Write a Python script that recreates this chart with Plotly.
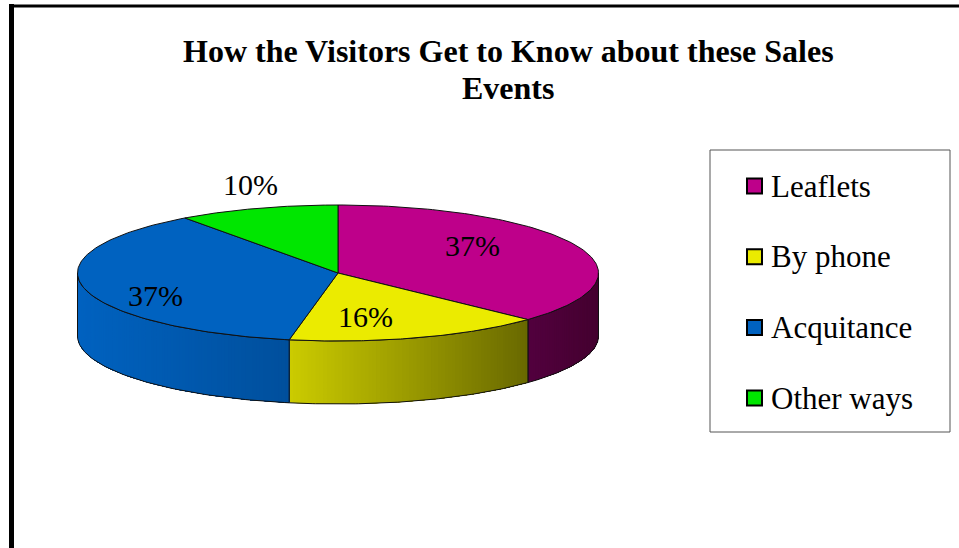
import numpy as np
import plotly.graph_objects as go

# ---- data ----
categories = ["Leaflets", "By phone", "Acquitance", "Other ways"]
shares = [37, 16, 37, 10]
value_labels = [f"{v}%" for v in shares]

# ---- styles ----
top_colors = ["#BE008A", "#EBEB00", "#0062C0", "#00E600"]
side_left = ["#52003E", "#CBCB00", "#0062C0", "#00B000"]
side_right = ["#44002F", "#686800", "#004F9C", "#008800"]
FONT = "Liberation Serif"

# pie geometry (pixel space)
CX, CY, RX, RY, DEPTH = 338, 273, 260.5, 68, 63
START_DEG = 90.0  # first slice starts at 12 o'clock, clockwise


def arc(t_from, t_to, n, drop=0.0):
    t = np.radians(np.linspace(t_from, t_to, n))
    return CX + RX * np.cos(t), CY - RY * np.sin(t) + drop


def mix(c1, c2, f):
    a = [int(c1[i:i + 2], 16) for i in (1, 3, 5)]
    b = [int(c2[i:i + 2], 16) for i in (1, 3, 5)]
    return "rgb({},{},{})".format(*[round(a[k] + (b[k] - a[k]) * f) for k in range(3)])


total = float(sum(shares))
bounds = START_DEG - 360.0 * np.concatenate([[0], np.cumsum(shares)]) / total

fig = go.Figure()

# side walls (front half only: angles between -180 and 0)
for i in range(len(shares)):
    t0, t1 = bounds[i], bounds[i + 1]
    hi, lo = min(t0, 0.0), max(t1, -180.0)
    if hi <= lo:
        continue
    steps = max(int((hi - lo) * 1.2), 2)
    edges = np.linspace(lo, hi, steps + 1)
    xl = CX + RX * np.cos(np.radians(lo))
    xr = CX + RX * np.cos(np.radians(hi))
    for k in range(steps):
        # each band runs from its own left edge to the right end of the wall,
        # so later bands cover earlier ones without leaving seams
        n = max(int((hi - edges[k]) * 2), 3)
        ax, ay = arc(edges[k], hi, n)
        bx, by = arc(hi, edges[k], n, DEPTH)
        f = (ax[0] - min(xl, xr)) / max(abs(xr - xl), 1e-9)
        col = mix(side_left[i], side_right[i], f)
        fig.add_trace(go.Scatter(
            x=np.concatenate([ax, bx, ax[:1]]), y=np.concatenate([ay, by, ay[:1]]),
            mode="lines", fill="toself", fillcolor=col,
            line=dict(width=0), hoverinfo="skip", showlegend=False))
    ax, ay = arc(lo, hi, 80)
    bx, by = arc(hi, lo, 80, DEPTH)
    fig.add_trace(go.Scatter(
        x=np.concatenate([ax, bx, ax[:1]]), y=np.concatenate([ay, by, ay[:1]]),
        mode="lines", line=dict(width=1, color="#111111"),
        hoverinfo="skip", showlegend=False))

# top faces
for i in range(len(shares)):
    ax, ay = arc(bounds[i], bounds[i + 1], 120)
    fig.add_trace(go.Scatter(
        x=np.concatenate([[CX], ax, [CX]]), y=np.concatenate([[CY], ay, [CY]]),
        mode="lines", fill="toself", fillcolor=top_colors[i],
        line=dict(width=1, color="#111111"), hoverinfo="skip", showlegend=False))

# value labels
label_pos = [(472, 245), (365, 316), (155, 295), (250, 184)]
for (lx, ly), txt in zip(label_pos, value_labels):
    fig.add_annotation(x=lx, y=ly, text=txt, showarrow=False,
                       font=dict(family=FONT, size=30, color="black"))

# title
fig.add_annotation(x=508, y=51, text="<b>How the Visitors Get to Know about these Sales</b>",
                   showarrow=False, font=dict(family=FONT, size=32, color="black"))
fig.add_annotation(x=508, y=88, text="<b>Events</b>",
                   showarrow=False, font=dict(family=FONT, size=32, color="black"))

# legend box
shapes = [dict(type="rect", x0=710, y0=150, x1=950, y1=432,
               line=dict(color="#555555", width=1), fillcolor="white", layer="below")]
for j, (name, col) in enumerate(zip(categories, top_colors)):
    yc = 186 + j * 70.7
    shapes.append(dict(type="rect", x0=747, y0=yc - 7.5, x1=762, y1=yc + 7.5,
                       line=dict(color="black", width=2), fillcolor=col))
    fig.add_annotation(x=769, y=yc, text=name, showarrow=False, xanchor="left",
                       font=dict(family=FONT, size=31, color="black"))

# frame lines
shapes.append(dict(type="line", x0=11.5, y0=4, x1=11.5, y1=548, line=dict(color="black", width=5)))
shapes.append(dict(type="line", x0=9, y0=6, x1=959, y1=6, line=dict(color="black", width=3)))

fig.update_layout(
    width=959, height=548, margin=dict(l=0, r=0, t=0, b=0),
    paper_bgcolor="white", plot_bgcolor="white", shapes=shapes, showlegend=False,
    xaxis=dict(range=[0, 959], visible=False, fixedrange=True),
    yaxis=dict(range=[548, 0], visible=False, fixedrange=True),
)
fig.write_html("out.html")
